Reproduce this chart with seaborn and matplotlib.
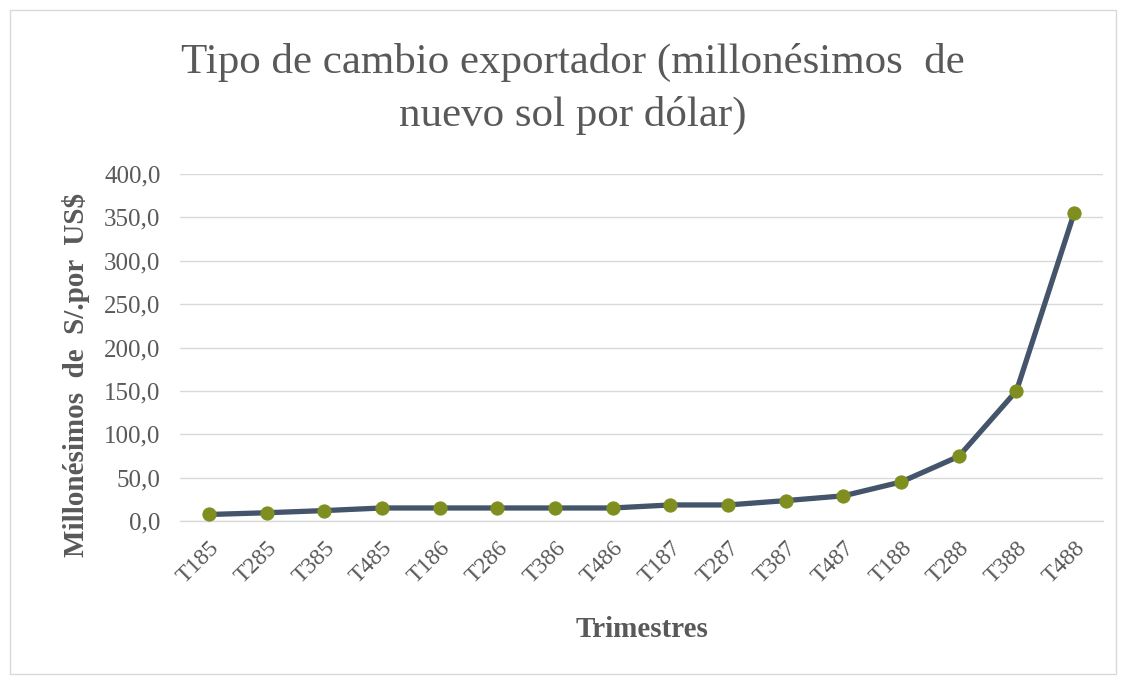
import matplotlib
matplotlib.use("Agg")
import matplotlib.pyplot as plt
import seaborn as sns
import pandas as pd
from matplotlib.patches import Rectangle
from matplotlib.ticker import FuncFormatter, MultipleLocator
from matplotlib.transforms import ScaledTranslation

trimestres = ["T185", "T285", "T385", "T485", "T186", "T286", "T386", "T486",
              "T187", "T287", "T387", "T487", "T188", "T288", "T388", "T488"]
valores = [7.5, 9.5, 12.0, 15.0, 15.0, 15.0, 15.0, 15.0,
           18.5, 18.5, 23.5, 29.0, 45.0, 74.5, 150.0, 355.0]

titulo = "Tipo de cambio exportador (millonésimos  de\nnuevo sol por dólar)"
ylabel = "Millonésimos  de  S/.por  US$"
xlabel = "Trimestres"

sns.set_theme(style="white")
plt.rcParams['font.family'] = ['Liberation Serif', 'DejaVu Serif']

W, H = 1126, 684
fig = plt.figure(figsize=(W / 100, H / 100), dpi=100)
fig.patch.set_facecolor("white")
fig.add_artist(Rectangle((10 / W, 10 / H), (W - 20) / W, (H - 20) / H,
                         transform=fig.transFigure, fill=False,
                         edgecolor="#D9D9D9", linewidth=1.0))

left, right, top, bottom = 180, 1103, 174, 521
ax = fig.add_axes([left / W, 1 - bottom / H, (right - left) / W, (bottom - top) / H])

df = pd.DataFrame({"pos": range(len(trimestres)), "valor": valores})
sns.lineplot(data=df, x="pos", y="valor", ax=ax, color="#44546A", linewidth=3.8,
             marker="o", markersize=9.5, markerfacecolor="#7F8F1F",
             markeredgecolor="#7F8F1F", zorder=3)

ax.set_xlim(-0.5, len(trimestres) - 0.5)
ax.set_ylim(0, 400)
ax.yaxis.set_major_locator(MultipleLocator(50))
ax.yaxis.set_major_formatter(FuncFormatter(lambda v, p: f"{v:.1f}".replace(".", ",")))
ax.set_xticks(range(len(trimestres)))
ax.set_xticklabels(trimestres, rotation=45, ha="right", rotation_mode="anchor")
shift = ScaledTranslation(-8 / 100, -6 / 100, fig.dpi_scale_trans)
for lab in ax.get_xticklabels():
    lab.set_transform(lab.get_transform() + shift)

ax.grid(axis="y", color="#D9D9D9", linewidth=1.0)
ax.grid(axis="x", visible=False)
for s in ["top", "right", "left"]:
    ax.spines[s].set_visible(False)
ax.spines["bottom"].set_color("#D9D9D9")
ax.spines["bottom"].set_linewidth(1.0)

ax.tick_params(axis="y", colors="#595959", labelsize=18, length=0, pad=14)
ax.tick_params(axis="x", colors="#595959", labelsize=17, length=0, pad=12)

ax.set_xlabel(xlabel, fontsize=21, fontweight="bold", color="#595959")
ax.xaxis.set_label_coords(0.5, -(616 - bottom) / (bottom - top))
ax.set_ylabel(ylabel, fontsize=21, fontweight="bold", color="#595959")
ax.yaxis.set_label_coords((90 - left) / (right - left), (bottom - 375) / (bottom - top))

fig.text(573 / W, 1 - 89 / H, titulo, ha="center", va="center", fontsize=31,
         color="#595959", linespacing=1.45)

fig.savefig("out.png", dpi=100, facecolor="white")
